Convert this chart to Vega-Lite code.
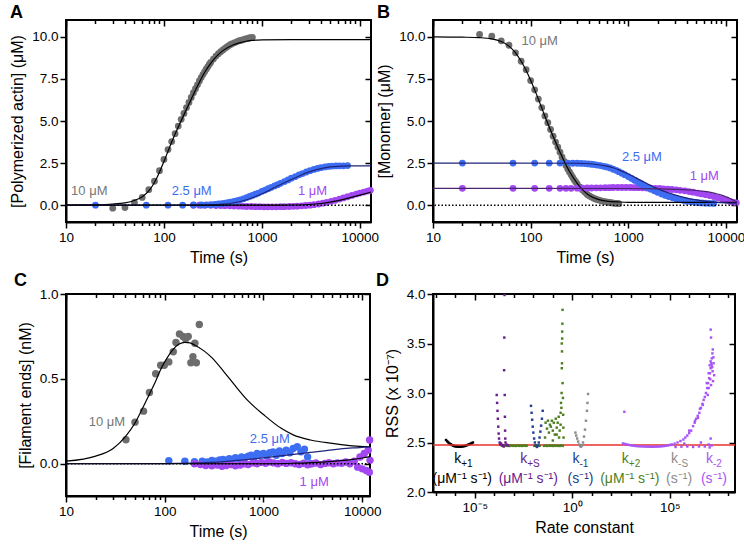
{
  "$schema": "https://vega.github.io/schema/vega-lite/v6.json",
  "padding": {"left": 8, "top": 3, "right": 8, "bottom": 5},
  "config": {
    "font": "Liberation Sans",
    "view": {"stroke": "black", "strokeWidth": 2},
    "axis": {
      "grid": false, "labelFontSize": 13.5, "titleFontSize": 16, "titleFontWeight": "normal",
      "labelColor": "black", "titleColor": "black", "tickColor": "black", "domainColor": "black",
      "domainWidth": 2, "tickWidth": 1.5, "labelFlush": false, "labelOverlap": false,
      "labelPadding": 2, "titlePadding": 6
    },
    "title": {"fontSize": 18, "fontWeight": "bold", "anchor": "start", "frame": "group", "color": "black"}
  },
  "datasets": {
    "zero": [{"v": 0}],
    "rmin": [{"r": 2.475}],
    "A_pts": [
      {"t":30,"v":-0.18,"s":"10"},{"t":40,"v":-0.14,"s":"10"},{"t":50,"v":0.16,"s":"10"},{"t":60,"v":0.46,"s":"10"},{"t":70,"v":0.92,"s":"10"},{"t":80,"v":1.42,"s":"10"},{"t":90,"v":2.05,"s":"10"},{"t":100,"v":2.72,"s":"10"},{"t":110,"v":3.3,"s":"10"},{"t":120,"v":3.78,"s":"10"},{"t":130,"v":4.25,"s":"10"},{"t":140,"v":4.7,"s":"10"},{"t":150,"v":5.1,"s":"10"},{"t":160,"v":5.45,"s":"10"},{"t":170,"v":5.8,"s":"10"},{"t":180,"v":6.1,"s":"10"},{"t":190,"v":6.4,"s":"10"},{"t":200,"v":6.68,"s":"10"},{"t":210,"v":6.92,"s":"10"},{"t":220,"v":7.15,"s":"10"},{"t":230,"v":7.38,"s":"10"},{"t":240,"v":7.58,"s":"10"},{"t":250,"v":7.76,"s":"10"},{"t":260,"v":7.92,"s":"10"},{"t":270,"v":8.08,"s":"10"},{"t":280,"v":8.22,"s":"10"},{"t":290,"v":8.36,"s":"10"},{"t":300,"v":8.48,"s":"10"},{"t":320,"v":8.68,"s":"10"},{"t":340,"v":8.86,"s":"10"},{"t":360,"v":9.0,"s":"10"},{"t":380,"v":9.12,"s":"10"},{"t":400,"v":9.22,"s":"10"},{"t":420,"v":9.32,"s":"10"},{"t":440,"v":9.4,"s":"10"},{"t":460,"v":9.48,"s":"10"},{"t":480,"v":9.55,"s":"10"},{"t":500,"v":9.6,"s":"10"},{"t":530,"v":9.66,"s":"10"},{"t":560,"v":9.72,"s":"10"},{"t":590,"v":9.77,"s":"10"},{"t":620,"v":9.8,"s":"10"},{"t":650,"v":9.84,"s":"10"},{"t":680,"v":9.88,"s":"10"},{"t":710,"v":9.9,"s":"10"},{"t":740,"v":9.93,"s":"10"},{"t":770,"v":9.95,"s":"10"},{"t":800,"v":9.97,"s":"10"},
      {"t":200,"v":0.0,"s":"1"},{"t":230,"v":0.0,"s":"1"},{"t":260,"v":-0.01,"s":"1"},{"t":300,"v":-0.01,"s":"1"},{"t":340,"v":-0.02,"s":"1"},{"t":380,"v":-0.02,"s":"1"},{"t":420,"v":-0.03,"s":"1"},{"t":470,"v":-0.04,"s":"1"},{"t":520,"v":-0.05,"s":"1"},{"t":580,"v":-0.06,"s":"1"},{"t":640,"v":-0.07,"s":"1"},{"t":700,"v":-0.08,"s":"1"},{"t":780,"v":-0.08,"s":"1"},{"t":860,"v":-0.09,"s":"1"},{"t":950,"v":-0.09,"s":"1"},{"t":1050,"v":-0.1,"s":"1"},{"t":1150,"v":-0.1,"s":"1"},{"t":1270,"v":-0.1,"s":"1"},{"t":1400,"v":-0.1,"s":"1"},{"t":1550,"v":-0.09,"s":"1"},{"t":1700,"v":-0.09,"s":"1"},{"t":1900,"v":-0.08,"s":"1"},{"t":2100,"v":-0.07,"s":"1"},{"t":2300,"v":-0.06,"s":"1"},{"t":2550,"v":-0.04,"s":"1"},{"t":2800,"v":-0.02,"s":"1"},{"t":3100,"v":0.0,"s":"1"},{"t":3400,"v":0.03,"s":"1"},{"t":3800,"v":0.07,"s":"1"},{"t":4200,"v":0.12,"s":"1"},{"t":4600,"v":0.17,"s":"1"},{"t":5100,"v":0.23,"s":"1"},{"t":5600,"v":0.29,"s":"1"},{"t":6200,"v":0.36,"s":"1"},{"t":6800,"v":0.43,"s":"1"},{"t":7500,"v":0.5,"s":"1"},{"t":8300,"v":0.58,"s":"1"},{"t":9200,"v":0.66,"s":"1"},{"t":10000,"v":0.72,"s":"1"},{"t":11000,"v":0.78,"s":"1"},{"t":12000,"v":0.84,"s":"1"},{"t":12800,"v":0.88,"s":"1"},
      {"t":20,"v":0.0,"s":"2.5"},{"t":66,"v":0.0,"s":"2.5"},{"t":110,"v":0.0,"s":"2.5"},{"t":155,"v":0.0,"s":"2.5"},{"t":200,"v":0.01,"s":"2.5"},{"t":240,"v":0.01,"s":"2.5"},{"t":270,"v":0.02,"s":"2.5"},{"t":300,"v":0.03,"s":"2.5"},{"t":330,"v":0.05,"s":"2.5"},{"t":360,"v":0.07,"s":"2.5"},{"t":390,"v":0.09,"s":"2.5"},{"t":420,"v":0.12,"s":"2.5"},{"t":450,"v":0.15,"s":"2.5"},{"t":480,"v":0.18,"s":"2.5"},{"t":520,"v":0.22,"s":"2.5"},{"t":560,"v":0.27,"s":"2.5"},{"t":600,"v":0.32,"s":"2.5"},{"t":650,"v":0.38,"s":"2.5"},{"t":700,"v":0.45,"s":"2.5"},{"t":750,"v":0.52,"s":"2.5"},{"t":800,"v":0.58,"s":"2.5"},{"t":860,"v":0.65,"s":"2.5"},{"t":920,"v":0.72,"s":"2.5"},{"t":1000,"v":0.82,"s":"2.5"},{"t":1080,"v":0.9,"s":"2.5"},{"t":1160,"v":0.98,"s":"2.5"},{"t":1250,"v":1.06,"s":"2.5"},{"t":1350,"v":1.14,"s":"2.5"},{"t":1450,"v":1.22,"s":"2.5"},{"t":1550,"v":1.3,"s":"2.5"},{"t":1700,"v":1.4,"s":"2.5"},{"t":1850,"v":1.5,"s":"2.5"},{"t":2000,"v":1.6,"s":"2.5"},{"t":2200,"v":1.7,"s":"2.5"},{"t":2400,"v":1.8,"s":"2.5"},{"t":2600,"v":1.88,"s":"2.5"},{"t":2850,"v":1.97,"s":"2.5"},{"t":3100,"v":2.05,"s":"2.5"},{"t":3400,"v":2.12,"s":"2.5"},{"t":3700,"v":2.18,"s":"2.5"},{"t":4000,"v":2.23,"s":"2.5"},{"t":4400,"v":2.27,"s":"2.5"},{"t":4800,"v":2.3,"s":"2.5"},{"t":5200,"v":2.32,"s":"2.5"},{"t":5700,"v":2.33,"s":"2.5"},{"t":6200,"v":2.34,"s":"2.5"},{"t":6800,"v":2.34,"s":"2.5"},{"t":7500,"v":2.35,"s":"2.5"}
    ],
    "A_fit": [
      {"t":10,"v":0.005,"s":"10"},{"t":15,"v":0.012,"s":"10"},{"t":20,"v":0.022,"s":"10"},{"t":25,"v":0.04,"s":"10"},{"t":30,"v":0.065,"s":"10"},{"t":40,"v":0.14,"s":"10"},{"t":50,"v":0.28,"s":"10"},{"t":60,"v":0.5,"s":"10"},{"t":70,"v":0.85,"s":"10"},{"t":80,"v":1.35,"s":"10"},{"t":90,"v":1.95,"s":"10"},{"t":100,"v":2.6,"s":"10"},{"t":110,"v":3.2,"s":"10"},{"t":120,"v":3.75,"s":"10"},{"t":130,"v":4.22,"s":"10"},{"t":140,"v":4.65,"s":"10"},{"t":150,"v":5.02,"s":"10"},{"t":170,"v":5.7,"s":"10"},{"t":200,"v":6.58,"s":"10"},{"t":230,"v":7.3,"s":"10"},{"t":260,"v":7.88,"s":"10"},{"t":300,"v":8.42,"s":"10"},{"t":350,"v":8.88,"s":"10"},{"t":400,"v":9.18,"s":"10"},{"t":500,"v":9.5,"s":"10"},{"t":600,"v":9.66,"s":"10"},{"t":700,"v":9.74,"s":"10"},{"t":800,"v":9.79,"s":"10"},{"t":1000,"v":9.82,"s":"10"},{"t":2000,"v":9.84,"s":"10"},{"t":13000,"v":9.84,"s":"10"},
      {"t":10,"v":0,"s":"2.5"},{"t":200,"v":0.005,"s":"2.5"},{"t":300,"v":0.02,"s":"2.5"},{"t":400,"v":0.06,"s":"2.5"},{"t":500,"v":0.13,"s":"2.5"},{"t":600,"v":0.22,"s":"2.5"},{"t":700,"v":0.32,"s":"2.5"},{"t":850,"v":0.5,"s":"2.5"},{"t":1000,"v":0.68,"s":"2.5"},{"t":1250,"v":0.95,"s":"2.5"},{"t":1500,"v":1.18,"s":"2.5"},{"t":2000,"v":1.52,"s":"2.5"},{"t":2500,"v":1.78,"s":"2.5"},{"t":3000,"v":1.96,"s":"2.5"},{"t":4000,"v":2.17,"s":"2.5"},{"t":5000,"v":2.27,"s":"2.5"},{"t":6000,"v":2.31,"s":"2.5"},{"t":8000,"v":2.33,"s":"2.5"},{"t":13000,"v":2.34,"s":"2.5"},
      {"t":10,"v":0,"s":"1"},{"t":1000,"v":0,"s":"1"},{"t":2000,"v":0.01,"s":"1"},{"t":3000,"v":0.04,"s":"1"},{"t":4000,"v":0.1,"s":"1"},{"t":5000,"v":0.18,"s":"1"},{"t":6000,"v":0.27,"s":"1"},{"t":7000,"v":0.36,"s":"1"},{"t":8000,"v":0.45,"s":"1"},{"t":10000,"v":0.6,"s":"1"},{"t":13000,"v":0.78,"s":"1"}
    ],
    "A_lab": [
      {"t":17.3,"v":0.86,"s":"10","lab":"10 μM"},{"t":192,"v":0.86,"s":"2.5","lab":"2.5 μM"},{"t":3290,"v":0.86,"s":"1","lab":"1 μM"}
    ],
    "B_pts": [
      {"t":30,"v":10.14,"s":"10"},{"t":40,"v":10.04,"s":"10"},{"t":50,"v":9.76,"s":"10"},{"t":60,"v":9.5,"s":"10"},{"t":70,"v":9.05,"s":"10"},{"t":80,"v":8.55,"s":"10"},{"t":90,"v":8.05,"s":"10"},{"t":100,"v":7.4,"s":"10"},{"t":110,"v":6.85,"s":"10"},{"t":120,"v":6.3,"s":"10"},{"t":130,"v":5.8,"s":"10"},{"t":140,"v":5.3,"s":"10"},{"t":150,"v":4.9,"s":"10"},{"t":160,"v":4.5,"s":"10"},{"t":170,"v":4.1,"s":"10"},{"t":180,"v":3.75,"s":"10"},{"t":190,"v":3.45,"s":"10"},{"t":200,"v":3.15,"s":"10"},{"t":210,"v":2.85,"s":"10"},{"t":220,"v":2.6,"s":"10"},{"t":230,"v":2.35,"s":"10"},{"t":240,"v":2.15,"s":"10"},{"t":250,"v":1.97,"s":"10"},{"t":260,"v":1.8,"s":"10"},{"t":270,"v":1.65,"s":"10"},{"t":280,"v":1.5,"s":"10"},{"t":290,"v":1.38,"s":"10"},{"t":300,"v":1.27,"s":"10"},{"t":320,"v":1.07,"s":"10"},{"t":340,"v":0.9,"s":"10"},{"t":360,"v":0.76,"s":"10"},{"t":380,"v":0.64,"s":"10"},{"t":400,"v":0.55,"s":"10"},{"t":420,"v":0.48,"s":"10"},{"t":440,"v":0.42,"s":"10"},{"t":460,"v":0.37,"s":"10"},{"t":480,"v":0.33,"s":"10"},{"t":500,"v":0.3,"s":"10"},{"t":530,"v":0.26,"s":"10"},{"t":560,"v":0.23,"s":"10"},{"t":590,"v":0.2,"s":"10"},{"t":620,"v":0.18,"s":"10"},{"t":650,"v":0.16,"s":"10"},{"t":680,"v":0.14,"s":"10"},{"t":710,"v":0.12,"s":"10"},{"t":740,"v":0.11,"s":"10"},{"t":770,"v":0.1,"s":"10"},{"t":800,"v":0.09,"s":"10"},
      {"t":20,"v":1.0,"s":"1"},{"t":66,"v":1.0,"s":"1"},{"t":110,"v":1.0,"s":"1"},{"t":155,"v":1.0,"s":"1"},{"t":200,"v":1.0,"s":"1"},{"t":230,"v":1.0,"s":"1"},{"t":260,"v":1.0,"s":"1"},{"t":300,"v":1.01,"s":"1"},{"t":340,"v":1.01,"s":"1"},{"t":380,"v":1.02,"s":"1"},{"t":420,"v":1.02,"s":"1"},{"t":470,"v":1.03,"s":"1"},{"t":520,"v":1.03,"s":"1"},{"t":580,"v":1.04,"s":"1"},{"t":640,"v":1.04,"s":"1"},{"t":700,"v":1.05,"s":"1"},{"t":780,"v":1.05,"s":"1"},{"t":860,"v":1.05,"s":"1"},{"t":950,"v":1.05,"s":"1"},{"t":1050,"v":1.05,"s":"1"},{"t":1150,"v":1.04,"s":"1"},{"t":1270,"v":1.04,"s":"1"},{"t":1400,"v":1.03,"s":"1"},{"t":1550,"v":1.02,"s":"1"},{"t":1700,"v":1.01,"s":"1"},{"t":1900,"v":1.0,"s":"1"},{"t":2100,"v":0.99,"s":"1"},{"t":2300,"v":0.97,"s":"1"},{"t":2550,"v":0.95,"s":"1"},{"t":2800,"v":0.93,"s":"1"},{"t":3100,"v":0.91,"s":"1"},{"t":3400,"v":0.88,"s":"1"},{"t":3800,"v":0.85,"s":"1"},{"t":4200,"v":0.81,"s":"1"},{"t":4600,"v":0.77,"s":"1"},{"t":5100,"v":0.72,"s":"1"},{"t":5600,"v":0.67,"s":"1"},{"t":6200,"v":0.62,"s":"1"},{"t":6800,"v":0.57,"s":"1"},{"t":7500,"v":0.51,"s":"1"},{"t":8300,"v":0.44,"s":"1"},{"t":9200,"v":0.36,"s":"1"},{"t":10000,"v":0.3,"s":"1"},{"t":11000,"v":0.23,"s":"1"},{"t":12000,"v":0.17,"s":"1"},{"t":12800,"v":0.14,"s":"1"},
      {"t":20,"v":2.5,"s":"2.5"},{"t":66,"v":2.5,"s":"2.5"},{"t":110,"v":2.5,"s":"2.5"},{"t":155,"v":2.5,"s":"2.5"},{"t":200,"v":2.5,"s":"2.5"},{"t":240,"v":2.5,"s":"2.5"},{"t":270,"v":2.49,"s":"2.5"},{"t":300,"v":2.49,"s":"2.5"},{"t":330,"v":2.48,"s":"2.5"},{"t":360,"v":2.47,"s":"2.5"},{"t":390,"v":2.45,"s":"2.5"},{"t":420,"v":2.43,"s":"2.5"},{"t":450,"v":2.41,"s":"2.5"},{"t":480,"v":2.38,"s":"2.5"},{"t":520,"v":2.35,"s":"2.5"},{"t":560,"v":2.31,"s":"2.5"},{"t":600,"v":2.27,"s":"2.5"},{"t":650,"v":2.21,"s":"2.5"},{"t":700,"v":2.14,"s":"2.5"},{"t":750,"v":2.07,"s":"2.5"},{"t":800,"v":1.99,"s":"2.5"},{"t":860,"v":1.9,"s":"2.5"},{"t":920,"v":1.81,"s":"2.5"},{"t":1000,"v":1.7,"s":"2.5"},{"t":1080,"v":1.59,"s":"2.5"},{"t":1160,"v":1.48,"s":"2.5"},{"t":1250,"v":1.37,"s":"2.5"},{"t":1350,"v":1.26,"s":"2.5"},{"t":1450,"v":1.16,"s":"2.5"},{"t":1550,"v":1.07,"s":"2.5"},{"t":1700,"v":0.95,"s":"2.5"},{"t":1850,"v":0.85,"s":"2.5"},{"t":2000,"v":0.76,"s":"2.5"},{"t":2200,"v":0.66,"s":"2.5"},{"t":2400,"v":0.58,"s":"2.5"},{"t":2600,"v":0.51,"s":"2.5"},{"t":2850,"v":0.44,"s":"2.5"},{"t":3100,"v":0.38,"s":"2.5"},{"t":3400,"v":0.33,"s":"2.5"},{"t":3700,"v":0.28,"s":"2.5"},{"t":4000,"v":0.24,"s":"2.5"},{"t":4400,"v":0.2,"s":"2.5"},{"t":4800,"v":0.17,"s":"2.5"},{"t":5200,"v":0.15,"s":"2.5"},{"t":5700,"v":0.13,"s":"2.5"},{"t":6200,"v":0.12,"s":"2.5"},{"t":6800,"v":0.11,"s":"2.5"},{"t":7500,"v":0.1,"s":"2.5"}
    ],
    "B_fit": [
      {"t":10,"v":10.0,"s":"10"},{"t":20,"v":9.98,"s":"10"},{"t":30,"v":9.95,"s":"10"},{"t":40,"v":9.88,"s":"10"},{"t":50,"v":9.72,"s":"10"},{"t":60,"v":9.45,"s":"10"},{"t":70,"v":9.05,"s":"10"},{"t":80,"v":8.55,"s":"10"},{"t":90,"v":8.0,"s":"10"},{"t":100,"v":7.42,"s":"10"},{"t":110,"v":6.85,"s":"10"},{"t":120,"v":6.3,"s":"10"},{"t":130,"v":5.78,"s":"10"},{"t":140,"v":5.28,"s":"10"},{"t":150,"v":4.85,"s":"10"},{"t":160,"v":4.45,"s":"10"},{"t":180,"v":3.75,"s":"10"},{"t":200,"v":3.15,"s":"10"},{"t":220,"v":2.62,"s":"10"},{"t":250,"v":2.0,"s":"10"},{"t":300,"v":1.3,"s":"10"},{"t":350,"v":0.85,"s":"10"},{"t":400,"v":0.58,"s":"10"},{"t":500,"v":0.33,"s":"10"},{"t":600,"v":0.24,"s":"10"},{"t":800,"v":0.19,"s":"10"},{"t":1000,"v":0.17,"s":"10"},{"t":13000,"v":0.16,"s":"10"},
      {"t":10,"v":2.5,"s":"2.5"},{"t":300,"v":2.49,"s":"2.5"},{"t":400,"v":2.46,"s":"2.5"},{"t":500,"v":2.4,"s":"2.5"},{"t":600,"v":2.32,"s":"2.5"},{"t":700,"v":2.22,"s":"2.5"},{"t":800,"v":2.1,"s":"2.5"},{"t":1000,"v":1.85,"s":"2.5"},{"t":1200,"v":1.62,"s":"2.5"},{"t":1500,"v":1.33,"s":"2.5"},{"t":2000,"v":0.98,"s":"2.5"},{"t":2500,"v":0.76,"s":"2.5"},{"t":3000,"v":0.61,"s":"2.5"},{"t":4000,"v":0.42,"s":"2.5"},{"t":5000,"v":0.31,"s":"2.5"},{"t":6000,"v":0.24,"s":"2.5"},{"t":8000,"v":0.17,"s":"2.5"},{"t":10000,"v":0.14,"s":"2.5"},{"t":13000,"v":0.12,"s":"2.5"},
      {"t":10,"v":1.0,"s":"1"},{"t":1000,"v":0.99,"s":"1"},{"t":2000,"v":0.97,"s":"1"},{"t":3000,"v":0.94,"s":"1"},{"t":4000,"v":0.91,"s":"1"},{"t":5000,"v":0.87,"s":"1"},{"t":6000,"v":0.82,"s":"1"},{"t":7000,"v":0.76,"s":"1"},{"t":8000,"v":0.68,"s":"1"},{"t":9000,"v":0.6,"s":"1"},{"t":10000,"v":0.5,"s":"1"},{"t":11000,"v":0.4,"s":"1"},{"t":12000,"v":0.29,"s":"1"},{"t":13000,"v":0.19,"s":"1"}
    ],
    "B_lab": [
      {"t":124,"v":9.74,"s":"10","lab":"10 μM"},{"t":1380,"v":2.84,"s":"2.5","lab":"2.5 μM"},{"t":6000,"v":1.71,"s":"1","lab":"1 μM"}
    ],
    "C_pts": [
      {"t":40.5,"v":0.141,"s":"10"},{"t":50,"v":0.245,"s":"10"},{"t":61,"v":0.31,"s":"10"},{"t":70,"v":0.42,"s":"10"},{"t":81,"v":0.53,"s":"10"},{"t":91,"v":0.58,"s":"10"},{"t":99,"v":0.58,"s":"10"},{"t":110,"v":0.6,"s":"10"},{"t":122,"v":0.66,"s":"10"},{"t":130,"v":0.715,"s":"10"},{"t":141,"v":0.765,"s":"10"},{"t":153,"v":0.75,"s":"10"},{"t":163,"v":0.735,"s":"10"},{"t":173,"v":0.75,"s":"10"},{"t":184,"v":0.595,"s":"10"},{"t":193,"v":0.63,"s":"10"},{"t":202,"v":0.71,"s":"10"},{"t":209,"v":0.595,"s":"10"},{"t":224,"v":0.82,"s":"10"},
      {"t":110,"v":0.018,"s":"2.5"},{"t":160,"v":0.015,"s":"2.5"},{"t":200,"v":0.012,"s":"2.5"},{"t":240,"v":0.015,"s":"2.5"},{"t":270,"v":0.01,"s":"2.5"},{"t":300,"v":0.02,"s":"2.5"},{"t":330,"v":0.015,"s":"2.5"},{"t":360,"v":0.022,"s":"2.5"},{"t":390,"v":0.025,"s":"2.5"},{"t":420,"v":0.018,"s":"2.5"},{"t":450,"v":0.03,"s":"2.5"},{"t":480,"v":0.025,"s":"2.5"},{"t":520,"v":0.035,"s":"2.5"},{"t":560,"v":0.028,"s":"2.5"},{"t":600,"v":0.04,"s":"2.5"},{"t":650,"v":0.035,"s":"2.5"},{"t":700,"v":0.045,"s":"2.5"},{"t":750,"v":0.05,"s":"2.5"},{"t":800,"v":0.035,"s":"2.5"},{"t":860,"v":0.06,"s":"2.5"},{"t":920,"v":0.055,"s":"2.5"},{"t":1000,"v":0.06,"s":"2.5"},{"t":1080,"v":0.045,"s":"2.5"},{"t":1160,"v":0.065,"s":"2.5"},{"t":1250,"v":0.07,"s":"2.5"},{"t":1350,"v":0.05,"s":"2.5"},{"t":1450,"v":0.075,"s":"2.5"},{"t":1550,"v":0.06,"s":"2.5"},{"t":1700,"v":0.08,"s":"2.5"},{"t":1850,"v":0.065,"s":"2.5"},{"t":2000,"v":0.09,"s":"2.5"},{"t":2200,"v":0.1,"s":"2.5"},{"t":2400,"v":0.07,"s":"2.5"},{"t":2600,"v":0.085,"s":"2.5"},{"t":2800,"v":0.04,"s":"2.5"},{"t":3000,"v":0.0,"s":"2.5"},
      {"t":200,"v":0.0,"s":"1"},{"t":230,"v":-0.005,"s":"1"},{"t":260,"v":-0.01,"s":"1"},{"t":300,"v":-0.012,"s":"1"},{"t":340,"v":-0.008,"s":"1"},{"t":380,"v":-0.015,"s":"1"},{"t":420,"v":-0.01,"s":"1"},{"t":470,"v":-0.005,"s":"1"},{"t":520,"v":-0.012,"s":"1"},{"t":580,"v":-0.008,"s":"1"},{"t":640,"v":0.0,"s":"1"},{"t":700,"v":-0.005,"s":"1"},{"t":780,"v":0.005,"s":"1"},{"t":860,"v":0.0,"s":"1"},{"t":950,"v":0.008,"s":"1"},{"t":1050,"v":0.003,"s":"1"},{"t":1150,"v":0.01,"s":"1"},{"t":1270,"v":0.005,"s":"1"},{"t":1400,"v":0.0,"s":"1"},{"t":1550,"v":0.008,"s":"1"},{"t":1700,"v":0.002,"s":"1"},{"t":1900,"v":0.006,"s":"1"},{"t":2100,"v":0.0,"s":"1"},{"t":2300,"v":-0.004,"s":"1"},{"t":2550,"v":0.003,"s":"1"},{"t":2800,"v":-0.006,"s":"1"},{"t":3100,"v":0.0,"s":"1"},{"t":3400,"v":0.004,"s":"1"},{"t":3800,"v":-0.005,"s":"1"},{"t":4200,"v":0.002,"s":"1"},{"t":4600,"v":0.006,"s":"1"},{"t":5100,"v":0.0,"s":"1"},{"t":5600,"v":0.005,"s":"1"},{"t":6200,"v":0.003,"s":"1"},{"t":6800,"v":0.01,"s":"1"},{"t":7500,"v":0.0,"s":"1"},{"t":8300,"v":0.015,"s":"1"},{"t":9000,"v":-0.02,"s":"1"},{"t":9500,"v":0.04,"s":"1"},{"t":10000,"v":-0.03,"s":"1"},{"t":10500,"v":0.06,"s":"1"},{"t":11000,"v":-0.04,"s":"1"},{"t":11500,"v":0.08,"s":"1"},{"t":11800,"v":-0.05,"s":"1"},{"t":12000,"v":0.02,"s":"1"},{"t":11900,"v":0.14,"s":"1"}
    ],
    "C_fit": [
      {"t":10,"v":0.015,"s":"10"},{"t":20,"v":0.045,"s":"10"},{"t":30,"v":0.09,"s":"10"},{"t":40,"v":0.16,"s":"10"},{"t":50,"v":0.24,"s":"10"},{"t":60,"v":0.33,"s":"10"},{"t":70,"v":0.41,"s":"10"},{"t":80,"v":0.48,"s":"10"},{"t":90,"v":0.55,"s":"10"},{"t":100,"v":0.6,"s":"10"},{"t":120,"v":0.67,"s":"10"},{"t":140,"v":0.705,"s":"10"},{"t":160,"v":0.715,"s":"10"},{"t":180,"v":0.712,"s":"10"},{"t":200,"v":0.7,"s":"10"},{"t":250,"v":0.665,"s":"10"},{"t":300,"v":0.625,"s":"10"},{"t":400,"v":0.54,"s":"10"},{"t":500,"v":0.47,"s":"10"},{"t":700,"v":0.37,"s":"10"},{"t":1000,"v":0.29,"s":"10"},{"t":1500,"v":0.21,"s":"10"},{"t":2000,"v":0.17,"s":"10"},{"t":3000,"v":0.14,"s":"10"},{"t":5000,"v":0.12,"s":"10"},{"t":8000,"v":0.105,"s":"10"},{"t":12000,"v":0.1,"s":"10"},
      {"t":10,"v":0,"s":"2.5"},{"t":100,"v":0.001,"s":"2.5"},{"t":300,"v":0.008,"s":"2.5"},{"t":500,"v":0.018,"s":"2.5"},{"t":1000,"v":0.035,"s":"2.5"},{"t":2000,"v":0.055,"s":"2.5"},{"t":3000,"v":0.067,"s":"2.5"},{"t":5000,"v":0.082,"s":"2.5"},{"t":8000,"v":0.093,"s":"2.5"},{"t":12000,"v":0.1,"s":"2.5"},
      {"t":10,"v":0,"s":"1"},{"t":1000,"v":0,"s":"1"},{"t":2000,"v":0.003,"s":"1"},{"t":4000,"v":0.01,"s":"1"},{"t":6000,"v":0.018,"s":"1"},{"t":8000,"v":0.026,"s":"1"},{"t":10000,"v":0.034,"s":"1"},{"t":12000,"v":0.042,"s":"1"}
    ],
    "C_lab": [
      {"t":26,"v":0.245,"s":"10","lab":"10 μM"},{"t":1160,"v":0.147,"s":"2.5","lab":"2.5 μM"},{"t":3260,"v":-0.108,"s":"1","lab":"1 μM"}
    ],
    "D_pts": [
      {"x":-6.48,"r":2.525,"p":"k+1"},{"x":-6.42,"r":2.512,"p":"k+1"},{"x":-6.36,"r":2.5,"p":"k+1"},{"x":-6.3,"r":2.49,"p":"k+1"},{"x":-6.24,"r":2.482,"p":"k+1"},{"x":-6.18,"r":2.475,"p":"k+1"},{"x":-6.12,"r":2.469,"p":"k+1"},{"x":-6.06,"r":2.464,"p":"k+1"},{"x":-6.0,"r":2.461,"p":"k+1"},{"x":-5.94,"r":2.459,"p":"k+1"},{"x":-5.88,"r":2.458,"p":"k+1"},{"x":-5.82,"r":2.457,"p":"k+1"},{"x":-5.76,"r":2.457,"p":"k+1"},{"x":-5.7,"r":2.458,"p":"k+1"},{"x":-5.64,"r":2.46,"p":"k+1"},{"x":-5.58,"r":2.462,"p":"k+1"},{"x":-5.52,"r":2.465,"p":"k+1"},{"x":-5.46,"r":2.469,"p":"k+1"},{"x":-5.4,"r":2.473,"p":"k+1"},{"x":-5.34,"r":2.478,"p":"k+1"},{"x":-5.28,"r":2.483,"p":"k+1"},{"x":-5.22,"r":2.488,"p":"k+1"},{"x":-5.16,"r":2.494,"p":"k+1"},{"x":-5.1,"r":2.5,"p":"k+1"},
      {"x":-3.62,"r":2.468,"p":"k+2"},{"x":-3.54,"r":2.465,"p":"k+2"},{"x":-3.46,"r":2.47,"p":"k+2"},{"x":-3.38,"r":2.466,"p":"k+2"},{"x":-3.3,"r":2.468,"p":"k+2"},{"x":-3.22,"r":2.465,"p":"k+2"},{"x":-3.14,"r":2.47,"p":"k+2"},{"x":-3.06,"r":2.466,"p":"k+2"},{"x":-2.98,"r":2.468,"p":"k+2"},{"x":-2.9,"r":2.465,"p":"k+2"},{"x":-2.82,"r":2.47,"p":"k+2"},{"x":-2.74,"r":2.466,"p":"k+2"},{"x":-2.66,"r":2.468,"p":"k+2"},{"x":-2.58,"r":2.465,"p":"k+2"},{"x":-2.5,"r":2.47,"p":"k+2"},{"x":-2.42,"r":2.466,"p":"k+2"},{"x":-2.34,"r":2.468,"p":"k+2"},{"x":-1.95,"r":2.466,"p":"k+2"},{"x":-1.88,"r":2.468,"p":"k+2"},{"x":-1.74,"r":2.465,"p":"k+2"},{"x":-1.67,"r":2.468,"p":"k+2"},{"x":-1.45,"r":2.466,"p":"k+2"},{"x":-1.37,"r":2.468,"p":"k+2"},{"x":-1.29,"r":2.465,"p":"k+2"},{"x":-1.21,"r":2.47,"p":"k+2"},{"x":-1.13,"r":2.466,"p":"k+2"},{"x":-1.05,"r":2.468,"p":"k+2"},{"x":-0.97,"r":2.465,"p":"k+2"},{"x":-0.89,"r":2.47,"p":"k+2"},{"x":-0.81,"r":2.466,"p":"k+2"},{"x":-0.73,"r":2.468,"p":"k+2"},{"x":-0.65,"r":2.465,"p":"k+2"},{"x":-0.57,"r":2.47,"p":"k+2"},{"x":-0.49,"r":2.466,"p":"k+2"},
      {"x":-1.37,"r":2.7,"p":"k+2"},{"x":-1.3,"r":2.64,"p":"k+2"},{"x":-1.25,"r":2.72,"p":"k+2"},{"x":-1.2,"r":2.6,"p":"k+2"},{"x":-1.15,"r":2.68,"p":"k+2"},{"x":-1.1,"r":2.66,"p":"k+2"},{"x":-1.05,"r":2.72,"p":"k+2"},{"x":-1.0,"r":2.62,"p":"k+2"},{"x":-0.95,"r":2.7,"p":"k+2"},{"x":-0.9,"r":2.58,"p":"k+2"},{"x":-0.85,"r":2.74,"p":"k+2"},{"x":-0.8,"r":2.65,"p":"k+2"},{"x":-0.75,"r":2.7,"p":"k+2"},{"x":-0.7,"r":2.76,"p":"k+2"},{"x":-0.65,"r":2.62,"p":"k+2"},{"x":-0.6,"r":2.8,"p":"k+2"},{"x":-0.58,"r":2.9,"p":"k+2"},{"x":-0.56,"r":2.85,"p":"k+2"},{"x":-0.55,"r":3.0,"p":"k+2"},{"x":-0.54,"r":3.25,"p":"k+2"},{"x":-0.53,"r":3.42,"p":"k+2"},{"x":-0.52,"r":3.55,"p":"k+2"},{"x":-0.51,"r":3.7,"p":"k+2"},{"x":-0.5,"r":3.84,"p":"k+2"},{"x":-0.52,"r":3.62,"p":"k+2"},{"x":-0.54,"r":3.5,"p":"k+2"},{"x":-0.53,"r":3.3,"p":"k+2"},{"x":-0.5,"r":3.1,"p":"k+2"},{"x":-0.48,"r":2.95,"p":"k+2"},{"x":-0.47,"r":2.78,"p":"k+2"},{"x":-0.46,"r":2.65,"p":"k+2"},{"x":-0.45,"r":2.55,"p":"k+2"},{"x":-0.6,"r":2.68,"p":"k+2"},{"x":-0.68,"r":2.55,"p":"k+2"},{"x":-0.8,"r":2.58,"p":"k+2"},{"x":-1.4,"r":2.55,"p":"k+2"},{"x":-1.0,"r":2.52,"p":"k+2"},
      {"x":-3.88,"r":2.98,"p":"k+S"},{"x":-3.86,"r":2.9,"p":"k+S"},{"x":-3.84,"r":2.82,"p":"k+S"},{"x":-3.82,"r":2.74,"p":"k+S"},{"x":-3.8,"r":2.66,"p":"k+S"},{"x":-3.78,"r":2.59,"p":"k+S"},{"x":-3.76,"r":2.54,"p":"k+S"},{"x":-3.73,"r":2.5,"p":"k+S"},{"x":-3.7,"r":2.48,"p":"k+S"},{"x":-3.48,"r":3.99,"p":"k+S"},{"x":-3.49,"r":3.56,"p":"k+S"},{"x":-3.5,"r":3.23,"p":"k+S"},{"x":-3.47,"r":2.98,"p":"k+S"},{"x":-3.46,"r":2.76,"p":"k+S"},{"x":-3.45,"r":2.62,"p":"k+S"},{"x":-3.44,"r":2.54,"p":"k+S"},{"x":-3.43,"r":2.5,"p":"k+S"},{"x":-3.6,"r":2.475,"p":"k+S"},{"x":-3.55,"r":2.47,"p":"k+S"},{"x":-3.38,"r":2.48,"p":"k+S"},{"x":-3.3,"r":2.47,"p":"k+S"},{"x":-3.66,"r":2.49,"p":"k+S"},{"x":-3.52,"r":2.46,"p":"k+S"},
      {"x":-2.12,"r":2.87,"p":"k-1"},{"x":-2.09,"r":2.8,"p":"k-1"},{"x":-2.06,"r":2.73,"p":"k-1"},{"x":-2.03,"r":2.66,"p":"k-1"},{"x":-2.0,"r":2.6,"p":"k-1"},{"x":-1.96,"r":2.54,"p":"k-1"},{"x":-1.92,"r":2.5,"p":"k-1"},{"x":-1.88,"r":2.47,"p":"k-1"},{"x":-1.82,"r":2.455,"p":"k-1"},{"x":-1.76,"r":2.47,"p":"k-1"},{"x":-1.72,"r":2.5,"p":"k-1"},{"x":-1.68,"r":2.55,"p":"k-1"},{"x":-1.64,"r":2.61,"p":"k-1"},{"x":-1.6,"r":2.67,"p":"k-1"},{"x":-1.56,"r":2.74,"p":"k-1"},{"x":-1.52,"r":2.82,"p":"k-1"},
      {"x":0.16,"r":2.6,"p":"k-S"},{"x":0.2,"r":2.57,"p":"k-S"},{"x":0.25,"r":2.54,"p":"k-S"},{"x":0.3,"r":2.51,"p":"k-S"},{"x":0.35,"r":2.48,"p":"k-S"},{"x":0.4,"r":2.465,"p":"k-S"},{"x":0.45,"r":2.458,"p":"k-S"},{"x":0.5,"r":2.47,"p":"k-S"},{"x":0.55,"r":2.5,"p":"k-S"},{"x":0.6,"r":2.56,"p":"k-S"},{"x":0.65,"r":2.63,"p":"k-S"},{"x":0.7,"r":2.72,"p":"k-S"},{"x":0.75,"r":2.82,"p":"k-S"},{"x":0.78,"r":2.9,"p":"k-S"},{"x":0.81,"r":2.99,"p":"k-S"},
      {"x":2.67,"r":2.81,"p":"k-2"},{"x":2.6,"r":2.49,"p":"k-2"},{"x":2.7,"r":2.485,"p":"k-2"},{"x":2.8,"r":2.48,"p":"k-2"},{"x":2.9,"r":2.476,"p":"k-2"},{"x":3.0,"r":2.472,"p":"k-2"},{"x":3.1,"r":2.469,"p":"k-2"},{"x":3.2,"r":2.466,"p":"k-2"},{"x":3.3,"r":2.464,"p":"k-2"},{"x":3.4,"r":2.462,"p":"k-2"},{"x":3.5,"r":2.461,"p":"k-2"},{"x":3.6,"r":2.46,"p":"k-2"},{"x":3.7,"r":2.459,"p":"k-2"},{"x":3.8,"r":2.458,"p":"k-2"},{"x":3.9,"r":2.458,"p":"k-2"},{"x":4.0,"r":2.457,"p":"k-2"},{"x":4.1,"r":2.457,"p":"k-2"},{"x":4.2,"r":2.458,"p":"k-2"},{"x":4.3,"r":2.458,"p":"k-2"},{"x":4.4,"r":2.459,"p":"k-2"},{"x":4.5,"r":2.46,"p":"k-2"},{"x":4.6,"r":2.462,"p":"k-2"},{"x":4.7,"r":2.464,"p":"k-2"},{"x":4.8,"r":2.467,"p":"k-2"},{"x":4.9,"r":2.47,"p":"k-2"},{"x":5.0,"r":2.475,"p":"k-2"},
      {"x":5.1,"r":2.48,"p":"k-2"},{"x":5.25,"r":2.488,"p":"k-2"},{"x":5.4,"r":2.5,"p":"k-2"},{"x":5.55,"r":2.515,"p":"k-2"},{"x":5.7,"r":2.53,"p":"k-2"},{"x":5.8,"r":2.55,"p":"k-2"},{"x":5.9,"r":2.57,"p":"k-2"},{"x":6.0,"r":2.595,"p":"k-2"},{"x":6.1,"r":2.62,"p":"k-2"},{"x":6.2,"r":2.665,"p":"k-2"},{"x":6.28,"r":2.7,"p":"k-2"},{"x":6.36,"r":2.74,"p":"k-2"},{"x":6.44,"r":2.77,"p":"k-2"},{"x":6.52,"r":2.8,"p":"k-2"},{"x":6.6,"r":2.85,"p":"k-2"},{"x":6.68,"r":2.89,"p":"k-2"},{"x":6.74,"r":2.93,"p":"k-2"},{"x":6.8,"r":2.96,"p":"k-2"},{"x":6.86,"r":3.0,"p":"k-2"},{"x":6.92,"r":3.05,"p":"k-2"},{"x":6.97,"r":3.1,"p":"k-2"},{"x":7.02,"r":3.15,"p":"k-2"},{"x":7.06,"r":3.2,"p":"k-2"},{"x":7.1,"r":3.25,"p":"k-2"},{"x":7.13,"r":3.3,"p":"k-2"},{"x":7.16,"r":3.35,"p":"k-2"},{"x":7.19,"r":3.4,"p":"k-2"},{"x":7.21,"r":3.44,"p":"k-2"},{"x":7.12,"r":3.56,"p":"k-2"},{"x":7.1,"r":3.64,"p":"k-2"},
      {"x":6.9,"r":3.1,"p":"k-2"},{"x":7.0,"r":3.2,"p":"k-2"},{"x":7.05,"r":3.28,"p":"k-2"},{"x":7.1,"r":3.32,"p":"k-2"},{"x":7.15,"r":3.28,"p":"k-2"},{"x":7.2,"r":3.22,"p":"k-2"},{"x":7.25,"r":3.3,"p":"k-2"},{"x":7.28,"r":3.18,"p":"k-2"},{"x":7.22,"r":3.12,"p":"k-2"},{"x":7.12,"r":3.08,"p":"k-2"},{"x":7.0,"r":3.05,"p":"k-2"},{"x":6.95,"r":2.98,"p":"k-2"},{"x":6.7,"r":2.88,"p":"k-2"},{"x":6.55,"r":2.84,"p":"k-2"},{"x":6.45,"r":2.75,"p":"k-2"},{"x":6.3,"r":2.72,"p":"k-2"},{"x":6.0,"r":2.62,"p":"k-2"},{"x":7.18,"r":3.26,"p":"k-2"},{"x":7.08,"r":3.14,"p":"k-2"},{"x":7.24,"r":3.36,"p":"k-2"},
      {"x":5.3,"r":2.455,"p":"k-2"},{"x":5.6,"r":2.458,"p":"k-2"},{"x":5.9,"r":2.46,"p":"k-2"},{"x":6.2,"r":2.455,"p":"k-2"},{"x":6.5,"r":2.46,"p":"k-2"},{"x":6.8,"r":2.46,"p":"k-2"},{"x":7.0,"r":2.48,"p":"k-2"},{"x":7.05,"r":2.45,"p":"k-2"},{"x":7.15,"r":2.47,"p":"k-2"},{"x":6.6,"r":2.5,"p":"k-2"},{"x":7.1,"r":2.54,"p":"k-2"},{"x":5.75,"r":2.49,"p":"k-2"}
    ],
    "D_lab": [
      {"x":-5.65,"y":2.33,"uy":2.128,"p":"k+1","sub":"+1","unit":"(μM⁻¹ s⁻¹)"},
      {"x":-2.26,"y":2.33,"uy":2.128,"p":"k+S","sub":"+S","unit":"(μM⁻¹ s⁻¹)"},
      {"x":0.42,"y":2.33,"uy":2.128,"p":"k-1","sub":"-1","unit":"(s⁻¹)"},
      {"x":2.95,"y":2.33,"uy":2.128,"p":"k+2","sub":"+2","unit":"(μM⁻¹ s⁻¹)"},
      {"x":5.48,"y":2.33,"uy":2.128,"p":"k-S","sub":"-S","unit":"(s⁻¹)"},
      {"x":7.27,"y":2.33,"uy":2.128,"p":"k-2","sub":"-2","unit":"(s⁻¹)"}
    ]
  },
  "columns": 2,
  "bounds": "flush",
  "spacing": {"row": 72, "column": 62},
  "concat": [
    {
      "title": {"text": "A", "dx": -56, "dy": 18, "offset": 1, "baseline": "alphabetic"},
      "width": 305, "height": 202,
      "layer": [
        {"data": {"name": "A_pts"}, "transform": [{"filter": "datum.s == '10'"}], "mark": {"type": "circle", "size": 46, "opacity": 1, "color": "#6d6d6d"},
          "encoding": {
            "x": {"field": "t", "type": "quantitative", "scale": {"type": "log", "domain": [10, 13000], "nice": false},
              "axis": {"orient": "bottom", "title": "Time (s)", "values": [10,20,30,40,50,60,70,80,90,100,200,300,400,500,600,700,800,900,1000,2000,3000,4000,5000,6000,7000,8000,9000,10000],
                "labelExpr": "indexof([10,100,1000,10000], datum.value) >= 0 ? format(datum.value, 'd') : ''",
                "tickSize": {"condition": {"test": "indexof([10,100,1000,10000], datum.value) >= 0", "value": 6}, "value": 3.5}}},
            "y": {"field": "v", "type": "quantitative", "scale": {"domain": [-1, 11], "nice": false},
              "axis": {"orient": "left", "title": "[Polymerized actin] (μM)", "values": [0, 2.5, 5, 7.5, 10], "format": ".1f", "tickSize": 6}}}},
        {"data": {"name": "A_pts"}, "transform": [{"filter": "datum.s == '1'"}], "mark": {"type": "circle", "size": 46, "opacity": 1, "color": "#a347f2"},
          "encoding": {"x": {"field": "t", "type": "quantitative", "axis": null}, "y": {"field": "v", "type": "quantitative", "axis": null}}},
        {"data": {"name": "A_pts"}, "transform": [{"filter": "datum.s == '2.5'"}], "mark": {"type": "circle", "size": 46, "opacity": 1, "color": "#3d6df2"},
          "encoding": {"x": {"field": "t", "type": "quantitative", "axis": null}, "y": {"field": "v", "type": "quantitative", "axis": null}}},
        {"data": {"name": "zero"}, "mark": {"type": "rule", "strokeDash": [1.5, 2], "strokeWidth": 1.5, "color": "black"},
          "encoding": {"y": {"field": "v", "type": "quantitative", "axis": null}}},
        {"data": {"name": "A_fit"}, "transform": [{"filter": "datum.s == '10'"}], "mark": {"type": "line", "strokeWidth": 1.2, "interpolate": "monotone", "color": "#000000"},
          "encoding": {
            "x": {"field": "t", "type": "quantitative",
              "axis": {"orient": "top", "title": null, "labels": false, "domain": false, "values": [10,20,30,40,50,60,70,80,90,100,200,300,400,500,600,700,800,900,1000,2000,3000,4000,5000,6000,7000,8000,9000,10000],
                "tickSize": {"condition": {"test": "indexof([10,100,1000,10000], datum.value) >= 0", "value": -6}, "value": -3.5}}},
            "y": {"field": "v", "type": "quantitative",
              "axis": {"orient": "right", "title": null, "labels": false, "domain": false, "values": [0, 2.5, 5, 7.5, 10], "tickSize": -6}}}},
        {"data": {"name": "A_fit"}, "transform": [{"filter": "datum.s == '2.5'"}], "mark": {"type": "line", "strokeWidth": 1.2, "interpolate": "monotone", "color": "#1f237a"},
          "encoding": {"x": {"field": "t", "type": "quantitative", "axis": null}, "y": {"field": "v", "type": "quantitative", "axis": null}}},
        {"data": {"name": "A_fit"}, "transform": [{"filter": "datum.s == '1'"}], "mark": {"type": "line", "strokeWidth": 1.2, "interpolate": "monotone", "color": "#000000"},
          "encoding": {"x": {"field": "t", "type": "quantitative", "axis": null}, "y": {"field": "v", "type": "quantitative", "axis": null}}},
        {"data": {"name": "A_lab"}, "transform": [{"filter": "datum.s == '10'"}], "mark": {"type": "text", "fontSize": 13, "align": "center", "baseline": "middle", "color": "#777777"},
          "encoding": {"x": {"field": "t", "type": "quantitative", "axis": null}, "y": {"field": "v", "type": "quantitative", "axis": null}, "text": {"field": "lab"}}},
        {"data": {"name": "A_lab"}, "transform": [{"filter": "datum.s == '2.5'"}], "mark": {"type": "text", "fontSize": 13, "align": "center", "baseline": "middle", "color": "#3d6df2"},
          "encoding": {"x": {"field": "t", "type": "quantitative", "axis": null}, "y": {"field": "v", "type": "quantitative", "axis": null}, "text": {"field": "lab"}}},
        {"data": {"name": "A_lab"}, "transform": [{"filter": "datum.s == '1'"}], "mark": {"type": "text", "fontSize": 13, "align": "center", "baseline": "middle", "color": "#a347f2"},
          "encoding": {"x": {"field": "t", "type": "quantitative", "axis": null}, "y": {"field": "v", "type": "quantitative", "axis": null}, "text": {"field": "lab"}}}
      ],
      "resolve": {"axis": {"x": "independent", "y": "independent"}}
    },
    {
      "title": {"text": "B", "dx": -56, "dy": 18, "offset": 1, "baseline": "alphabetic"},
      "width": 304, "height": 202,
      "layer": [
        {"data": {"name": "B_pts"}, "transform": [{"filter": "datum.s == '10'"}], "mark": {"type": "circle", "size": 46, "opacity": 1, "color": "#6d6d6d"},
          "encoding": {
            "x": {"field": "t", "type": "quantitative", "scale": {"type": "log", "domain": [10, 13000], "nice": false},
              "axis": {"orient": "bottom", "title": "Time (s)", "values": [10,20,30,40,50,60,70,80,90,100,200,300,400,500,600,700,800,900,1000,2000,3000,4000,5000,6000,7000,8000,9000,10000],
                "labelExpr": "indexof([10,100,1000,10000], datum.value) >= 0 ? format(datum.value, 'd') : ''",
                "tickSize": {"condition": {"test": "indexof([10,100,1000,10000], datum.value) >= 0", "value": 6}, "value": 3.5}}},
            "y": {"field": "v", "type": "quantitative", "scale": {"domain": [-1, 11], "nice": false},
              "axis": {"orient": "left", "title": "[Monomer] (μM)", "values": [0, 2.5, 5, 7.5, 10], "format": ".1f", "tickSize": 6}}}},
        {"data": {"name": "B_pts"}, "transform": [{"filter": "datum.s == '1'"}], "mark": {"type": "circle", "size": 46, "opacity": 1, "color": "#a347f2"},
          "encoding": {"x": {"field": "t", "type": "quantitative", "axis": null}, "y": {"field": "v", "type": "quantitative", "axis": null}}},
        {"data": {"name": "B_pts"}, "transform": [{"filter": "datum.s == '2.5'"}], "mark": {"type": "circle", "size": 46, "opacity": 1, "color": "#3d6df2"},
          "encoding": {"x": {"field": "t", "type": "quantitative", "axis": null}, "y": {"field": "v", "type": "quantitative", "axis": null}}},
        {"data": {"name": "zero"}, "mark": {"type": "rule", "strokeDash": [1.5, 2], "strokeWidth": 1.5, "color": "black"},
          "encoding": {"y": {"field": "v", "type": "quantitative", "axis": null}}},
        {"data": {"name": "B_fit"}, "transform": [{"filter": "datum.s == '10'"}], "mark": {"type": "line", "strokeWidth": 1.2, "interpolate": "monotone", "color": "#000000"},
          "encoding": {
            "x": {"field": "t", "type": "quantitative",
              "axis": {"orient": "top", "title": null, "labels": false, "domain": false, "values": [10,20,30,40,50,60,70,80,90,100,200,300,400,500,600,700,800,900,1000,2000,3000,4000,5000,6000,7000,8000,9000,10000],
                "tickSize": {"condition": {"test": "indexof([10,100,1000,10000], datum.value) >= 0", "value": -6}, "value": -3.5}}},
            "y": {"field": "v", "type": "quantitative",
              "axis": {"orient": "right", "title": null, "labels": false, "domain": false, "values": [0, 2.5, 5, 7.5, 10], "tickSize": -6}}}},
        {"data": {"name": "B_fit"}, "transform": [{"filter": "datum.s == '2.5'"}], "mark": {"type": "line", "strokeWidth": 1.2, "interpolate": "monotone", "color": "#1f237a"},
          "encoding": {"x": {"field": "t", "type": "quantitative", "axis": null}, "y": {"field": "v", "type": "quantitative", "axis": null}}},
        {"data": {"name": "B_fit"}, "transform": [{"filter": "datum.s == '1'"}], "mark": {"type": "line", "strokeWidth": 1.2, "interpolate": "monotone", "color": "#4a2470"},
          "encoding": {"x": {"field": "t", "type": "quantitative", "axis": null}, "y": {"field": "v", "type": "quantitative", "axis": null}}},
        {"data": {"name": "B_lab"}, "transform": [{"filter": "datum.s == '10'"}], "mark": {"type": "text", "fontSize": 13, "align": "center", "baseline": "middle", "color": "#777777"},
          "encoding": {"x": {"field": "t", "type": "quantitative", "axis": null}, "y": {"field": "v", "type": "quantitative", "axis": null}, "text": {"field": "lab"}}},
        {"data": {"name": "B_lab"}, "transform": [{"filter": "datum.s == '2.5'"}], "mark": {"type": "text", "fontSize": 13, "align": "center", "baseline": "middle", "color": "#3d6df2"},
          "encoding": {"x": {"field": "t", "type": "quantitative", "axis": null}, "y": {"field": "v", "type": "quantitative", "axis": null}, "text": {"field": "lab"}}},
        {"data": {"name": "B_lab"}, "transform": [{"filter": "datum.s == '1'"}], "mark": {"type": "text", "fontSize": 13, "align": "center", "baseline": "middle", "color": "#a347f2"},
          "encoding": {"x": {"field": "t", "type": "quantitative", "axis": null}, "y": {"field": "v", "type": "quantitative", "axis": null}, "text": {"field": "lab"}}}
      ],
      "resolve": {"axis": {"x": "independent", "y": "independent"}}
    },
    {
      "title": {"text": "C", "dx": -52, "dy": 18, "offset": 1, "baseline": "alphabetic"},
      "width": 304, "height": 202,
      "layer": [
        {"data": {"name": "C_pts"}, "transform": [{"filter": "datum.s == '10'"}], "mark": {"type": "circle", "size": 55, "opacity": 1, "color": "#6d6d6d"},
          "encoding": {
            "x": {"field": "t", "type": "quantitative", "scale": {"type": "log", "domain": [10, 12000], "nice": false},
              "axis": {"orient": "bottom", "title": "Time (s)", "values": [10,20,30,40,50,60,70,80,90,100,200,300,400,500,600,700,800,900,1000,2000,3000,4000,5000,6000,7000,8000,9000,10000],
                "labelExpr": "indexof([10,100,1000,10000], datum.value) >= 0 ? format(datum.value, 'd') : ''",
                "tickSize": {"condition": {"test": "indexof([10,100,1000,10000], datum.value) >= 0", "value": 6}, "value": 3.5}}},
            "y": {"field": "v", "type": "quantitative", "scale": {"domain": [-0.19, 1], "nice": false},
              "axis": {"orient": "left", "title": "[Filament ends] (nM)", "values": [0, 0.5, 1], "format": ".1f", "tickSize": 6}}}},
        {"data": {"name": "C_pts"}, "transform": [{"filter": "datum.s == '2.5'"}], "mark": {"type": "circle", "size": 55, "opacity": 1, "color": "#3d6df2"},
          "encoding": {"x": {"field": "t", "type": "quantitative", "axis": null}, "y": {"field": "v", "type": "quantitative", "axis": null}}},
        {"data": {"name": "C_pts"}, "transform": [{"filter": "datum.s == '1'"}], "mark": {"type": "circle", "size": 55, "opacity": 1, "color": "#a347f2"},
          "encoding": {"x": {"field": "t", "type": "quantitative", "axis": null}, "y": {"field": "v", "type": "quantitative", "axis": null}}},
        {"data": {"name": "zero"}, "mark": {"type": "rule", "strokeDash": [1.5, 2], "strokeWidth": 1.5, "color": "black"},
          "encoding": {"y": {"field": "v", "type": "quantitative", "axis": null}}},
        {"data": {"name": "C_fit"}, "transform": [{"filter": "datum.s == '10'"}], "mark": {"type": "line", "strokeWidth": 1.2, "interpolate": "monotone", "color": "#000000"},
          "encoding": {
            "x": {"field": "t", "type": "quantitative",
              "axis": {"orient": "top", "title": null, "labels": false, "domain": false, "values": [10,20,30,40,50,60,70,80,90,100,200,300,400,500,600,700,800,900,1000,2000,3000,4000,5000,6000,7000,8000,9000,10000],
                "tickSize": {"condition": {"test": "indexof([10,100,1000,10000], datum.value) >= 0", "value": -6}, "value": -3.5}}},
            "y": {"field": "v", "type": "quantitative",
              "axis": {"orient": "right", "title": null, "labels": false, "domain": false, "values": [0, 0.5, 1], "tickSize": -6}}}},
        {"data": {"name": "C_fit"}, "transform": [{"filter": "datum.s == '2.5'"}], "mark": {"type": "line", "strokeWidth": 1.2, "interpolate": "monotone", "color": "#1f237a"},
          "encoding": {"x": {"field": "t", "type": "quantitative", "axis": null}, "y": {"field": "v", "type": "quantitative", "axis": null}}},
        {"data": {"name": "C_fit"}, "transform": [{"filter": "datum.s == '1'"}], "mark": {"type": "line", "strokeWidth": 1.2, "interpolate": "monotone", "color": "#000000"},
          "encoding": {"x": {"field": "t", "type": "quantitative", "axis": null}, "y": {"field": "v", "type": "quantitative", "axis": null}}},
        {"data": {"name": "C_lab"}, "transform": [{"filter": "datum.s == '10'"}], "mark": {"type": "text", "fontSize": 13, "align": "center", "baseline": "middle", "color": "#777777"},
          "encoding": {"x": {"field": "t", "type": "quantitative", "axis": null}, "y": {"field": "v", "type": "quantitative", "axis": null}, "text": {"field": "lab"}}},
        {"data": {"name": "C_lab"}, "transform": [{"filter": "datum.s == '2.5'"}], "mark": {"type": "text", "fontSize": 13, "align": "center", "baseline": "middle", "color": "#3d6df2"},
          "encoding": {"x": {"field": "t", "type": "quantitative", "axis": null}, "y": {"field": "v", "type": "quantitative", "axis": null}, "text": {"field": "lab"}}},
        {"data": {"name": "C_lab"}, "transform": [{"filter": "datum.s == '1'"}], "mark": {"type": "text", "fontSize": 13, "align": "center", "baseline": "middle", "color": "#a347f2"},
          "encoding": {"x": {"field": "t", "type": "quantitative", "axis": null}, "y": {"field": "v", "type": "quantitative", "axis": null}, "text": {"field": "lab"}}}
      ],
      "resolve": {"axis": {"x": "independent", "y": "independent"}}
    },
    {
      "title": {"text": "D", "dx": -57, "dy": 18, "offset": 1, "baseline": "alphabetic"},
      "width": 302, "height": 198,
      "layer": [
        {"data": {"name": "D_pts"}, "transform": [{"filter": "datum.p == 'k+1'"}], "mark": {"type": "square", "size": 6, "opacity": 1, "color": "#000000"},
          "encoding": {
            "x": {"field": "x", "type": "quantitative", "scale": {"domain": [-7.15, 8.35], "nice": false, "zero": false},
              "axis": {"orient": "bottom", "title": "Rate constant", "values": [-7,-6,-5,-4,-3,-2,-1,0,1,2,3,4,5,6,7,8],
                "labelExpr": "datum.value == -5 ? '10⁻⁵' : datum.value == 0 ? '10⁰' : datum.value == 5 ? '10⁵' : ''",
                "tickSize": {"condition": {"test": "datum.value % 5 == 0", "value": 6}, "value": 3.5}}},
            "y": {"field": "r", "type": "quantitative", "scale": {"domain": [2, 4], "nice": false, "zero": false},
              "axis": {"orient": "left", "title": "RSS (x 10⁻⁷)", "values": [2, 2.5, 3, 3.5, 4], "format": ".1f", "tickSize": 6}}}},
        {"data": {"name": "rmin"}, "mark": {"type": "rule", "strokeWidth": 1.5, "color": "#e8302a"},
          "encoding": {"y": {"field": "r", "type": "quantitative", "axis": null}}},
        {"data": {"name": "D_pts"}, "transform": [{"filter": "datum.p == 'k+2'"}], "mark": {"type": "square", "size": 6, "opacity": 1, "color": "#4d7f1f"},
          "encoding": {"x": {"field": "x", "type": "quantitative", "axis": null}, "y": {"field": "r", "type": "quantitative", "axis": null}}},
        {"data": {"name": "D_pts"}, "transform": [{"filter": "datum.p == 'k+S'"}], "mark": {"type": "square", "size": 6, "opacity": 1, "color": "#6a1b8c"},
          "encoding": {"x": {"field": "x", "type": "quantitative", "axis": null}, "y": {"field": "r", "type": "quantitative", "axis": null}}},
        {"data": {"name": "D_pts"}, "transform": [{"filter": "datum.p == 'k-1'"}], "mark": {"type": "square", "size": 6, "opacity": 1, "color": "#24408e"},
          "encoding": {"x": {"field": "x", "type": "quantitative", "axis": null}, "y": {"field": "r", "type": "quantitative", "axis": null}}},
        {"data": {"name": "D_pts"}, "transform": [{"filter": "datum.p == 'k-S'"}], "mark": {"type": "square", "size": 6, "opacity": 1, "color": "#8c8c8c"},
          "encoding": {"x": {"field": "x", "type": "quantitative", "axis": null}, "y": {"field": "r", "type": "quantitative", "axis": null}}},
        {"data": {"name": "D_pts"}, "transform": [{"filter": "datum.p == 'k-2'"}], "mark": {"type": "square", "size": 6, "opacity": 1, "color": "#a855f7"},
          "encoding": {"x": {"field": "x", "type": "quantitative", "axis": null}, "y": {"field": "r", "type": "quantitative", "axis": null}}},
        {"data": {"name": "D_lab"}, "transform": [{"filter": "datum.p == 'k+1'"}], "mark": {"type": "text", "fontSize": 14, "align": "right", "baseline": "middle", "dx": -1, "color": "#000000"},
          "encoding": {
            "x": {"field": "x", "type": "quantitative",
              "axis": {"orient": "top", "title": null, "labels": false, "domain": false, "values": [-7,-6,-5,-4,-3,-2,-1,0,1,2,3,4,5,6,7,8],
                "tickSize": {"condition": {"test": "datum.value % 5 == 0", "value": -6}, "value": -3.5}}},
            "y": {"field": "y", "type": "quantitative",
              "axis": {"orient": "right", "title": null, "labels": false, "domain": false, "values": [2, 2.5, 3, 3.5, 4], "tickSize": -6}},
            "text": {"value": "k"}}},
        {"data": {"name": "D_lab"}, "transform": [{"filter": "datum.p == 'k+S'"}], "mark": {"type": "text", "fontSize": 14, "align": "right", "baseline": "middle", "dx": -1, "color": "#6a1b8c"},
          "encoding": {"x": {"field": "x", "type": "quantitative", "axis": null}, "y": {"field": "y", "type": "quantitative", "axis": null}, "text": {"value": "k"}}},
        {"data": {"name": "D_lab"}, "transform": [{"filter": "datum.p == 'k-1'"}], "mark": {"type": "text", "fontSize": 14, "align": "right", "baseline": "middle", "dx": -1, "color": "#24408e"},
          "encoding": {"x": {"field": "x", "type": "quantitative", "axis": null}, "y": {"field": "y", "type": "quantitative", "axis": null}, "text": {"value": "k"}}},
        {"data": {"name": "D_lab"}, "transform": [{"filter": "datum.p == 'k+2'"}], "mark": {"type": "text", "fontSize": 14, "align": "right", "baseline": "middle", "dx": -1, "color": "#4d7f1f"},
          "encoding": {"x": {"field": "x", "type": "quantitative", "axis": null}, "y": {"field": "y", "type": "quantitative", "axis": null}, "text": {"value": "k"}}},
        {"data": {"name": "D_lab"}, "transform": [{"filter": "datum.p == 'k-S'"}], "mark": {"type": "text", "fontSize": 14, "align": "right", "baseline": "middle", "dx": -1, "color": "#8c8c8c"},
          "encoding": {"x": {"field": "x", "type": "quantitative", "axis": null}, "y": {"field": "y", "type": "quantitative", "axis": null}, "text": {"value": "k"}}},
        {"data": {"name": "D_lab"}, "transform": [{"filter": "datum.p == 'k-2'"}], "mark": {"type": "text", "fontSize": 14, "align": "right", "baseline": "middle", "dx": -1, "color": "#a855f7"},
          "encoding": {"x": {"field": "x", "type": "quantitative", "axis": null}, "y": {"field": "y", "type": "quantitative", "axis": null}, "text": {"value": "k"}}},
        {"data": {"name": "D_lab"}, "transform": [{"filter": "datum.p == 'k+1'"}], "mark": {"type": "text", "fontSize": 10, "align": "left", "baseline": "middle", "dx": -1, "dy": 5, "color": "#000000"},
          "encoding": {"x": {"field": "x", "type": "quantitative", "axis": null}, "y": {"field": "y", "type": "quantitative", "axis": null}, "text": {"field": "sub"}}},
        {"data": {"name": "D_lab"}, "transform": [{"filter": "datum.p == 'k+S'"}], "mark": {"type": "text", "fontSize": 10, "align": "left", "baseline": "middle", "dx": -1, "dy": 5, "color": "#6a1b8c"},
          "encoding": {"x": {"field": "x", "type": "quantitative", "axis": null}, "y": {"field": "y", "type": "quantitative", "axis": null}, "text": {"field": "sub"}}},
        {"data": {"name": "D_lab"}, "transform": [{"filter": "datum.p == 'k-1'"}], "mark": {"type": "text", "fontSize": 10, "align": "left", "baseline": "middle", "dx": -1, "dy": 5, "color": "#24408e"},
          "encoding": {"x": {"field": "x", "type": "quantitative", "axis": null}, "y": {"field": "y", "type": "quantitative", "axis": null}, "text": {"field": "sub"}}},
        {"data": {"name": "D_lab"}, "transform": [{"filter": "datum.p == 'k+2'"}], "mark": {"type": "text", "fontSize": 10, "align": "left", "baseline": "middle", "dx": -1, "dy": 5, "color": "#4d7f1f"},
          "encoding": {"x": {"field": "x", "type": "quantitative", "axis": null}, "y": {"field": "y", "type": "quantitative", "axis": null}, "text": {"field": "sub"}}},
        {"data": {"name": "D_lab"}, "transform": [{"filter": "datum.p == 'k-S'"}], "mark": {"type": "text", "fontSize": 10, "align": "left", "baseline": "middle", "dx": -1, "dy": 5, "color": "#8c8c8c"},
          "encoding": {"x": {"field": "x", "type": "quantitative", "axis": null}, "y": {"field": "y", "type": "quantitative", "axis": null}, "text": {"field": "sub"}}},
        {"data": {"name": "D_lab"}, "transform": [{"filter": "datum.p == 'k-2'"}], "mark": {"type": "text", "fontSize": 10, "align": "left", "baseline": "middle", "dx": -1, "dy": 5, "color": "#a855f7"},
          "encoding": {"x": {"field": "x", "type": "quantitative", "axis": null}, "y": {"field": "y", "type": "quantitative", "axis": null}, "text": {"field": "sub"}}},
        {"data": {"name": "D_lab"}, "transform": [{"filter": "datum.p == 'k+1'"}], "mark": {"type": "text", "fontSize": 14, "align": "center", "baseline": "middle", "color": "#000000"},
          "encoding": {"x": {"field": "x", "type": "quantitative", "axis": null}, "y": {"field": "uy", "type": "quantitative", "axis": null}, "text": {"field": "unit"}}},
        {"data": {"name": "D_lab"}, "transform": [{"filter": "datum.p == 'k+S'"}], "mark": {"type": "text", "fontSize": 14, "align": "center", "baseline": "middle", "color": "#6a1b8c"},
          "encoding": {"x": {"field": "x", "type": "quantitative", "axis": null}, "y": {"field": "uy", "type": "quantitative", "axis": null}, "text": {"field": "unit"}}},
        {"data": {"name": "D_lab"}, "transform": [{"filter": "datum.p == 'k-1'"}], "mark": {"type": "text", "fontSize": 14, "align": "center", "baseline": "middle", "color": "#24408e"},
          "encoding": {"x": {"field": "x", "type": "quantitative", "axis": null}, "y": {"field": "uy", "type": "quantitative", "axis": null}, "text": {"field": "unit"}}},
        {"data": {"name": "D_lab"}, "transform": [{"filter": "datum.p == 'k+2'"}], "mark": {"type": "text", "fontSize": 14, "align": "center", "baseline": "middle", "color": "#4d7f1f"},
          "encoding": {"x": {"field": "x", "type": "quantitative", "axis": null}, "y": {"field": "uy", "type": "quantitative", "axis": null}, "text": {"field": "unit"}}},
        {"data": {"name": "D_lab"}, "transform": [{"filter": "datum.p == 'k-S'"}], "mark": {"type": "text", "fontSize": 14, "align": "center", "baseline": "middle", "color": "#8c8c8c"},
          "encoding": {"x": {"field": "x", "type": "quantitative", "axis": null}, "y": {"field": "uy", "type": "quantitative", "axis": null}, "text": {"field": "unit"}}},
        {"data": {"name": "D_lab"}, "transform": [{"filter": "datum.p == 'k-2'"}], "mark": {"type": "text", "fontSize": 14, "align": "center", "baseline": "middle", "color": "#a855f7"},
          "encoding": {"x": {"field": "x", "type": "quantitative", "axis": null}, "y": {"field": "uy", "type": "quantitative", "axis": null}, "text": {"field": "unit"}}}
      ],
      "resolve": {"axis": {"x": "independent", "y": "independent"}}
    }
  ]
}
